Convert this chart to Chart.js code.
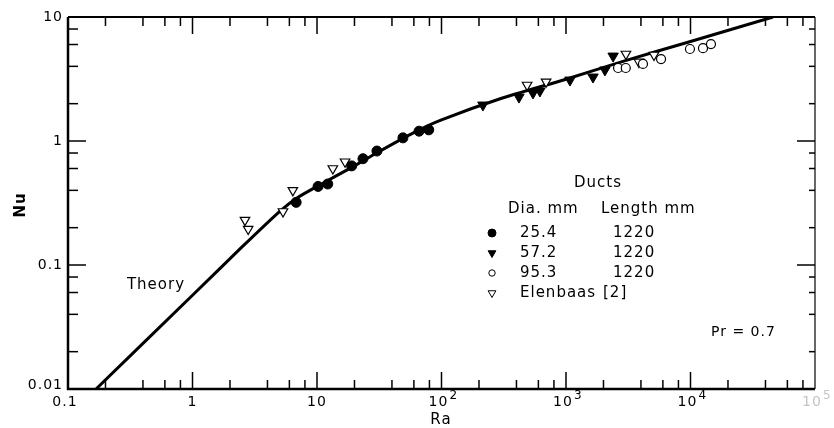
<!DOCTYPE html>
<html>
<head>
<meta charset="utf-8">
<script src="https://cdn.jsdelivr.net/npm/chart.js@4.4.1/dist/chart.umd.min.js"></script>
<style>html,body{margin:0;padding:0;background:#fff}</style>
</head>
<body>
<canvas id="chart--nu" width="834" height="428"></canvas>
<script>
// theory curve
const theory_ra = [0.168, 1, 2.5, 5, 7, 10, 20, 30, 60, 100, 300, 1000, 3000, 10000, 46000];
const theory_nu = [0.01, 0.057, 0.14, 0.27, 0.35, 0.43, 0.63, 0.8, 1.17, 1.48, 2.2, 3.15, 4.45, 6.35, 10];

// ducts, dia 25.4 mm
const d25_ra = [6.8, 10.2, 12.2, 19, 23.4, 30.3, 49, 66, 79];
const d25_nu = [0.32, 0.43, 0.45, 0.63, 0.72, 0.83, 1.06, 1.2, 1.23];
// dia 57.2 mm
const d57_ra = [215, 419, 543, 617, 1076, 1648, 2055, 2390];
const d57_nu = [1.95, 2.26, 2.44, 2.53, 3.1, 3.28, 3.74, 4.84];
// dia 95.3 mm
const d95_ra = [2620, 3020, 4150, 5800, 9900, 12600, 14600];
const d95_nu = [3.88, 3.88, 4.18, 4.58, 5.52, 5.6, 6.05];
// Elenbaas [2]
const elen_ra = [2.64, 2.8, 5.33, 6.4, 13.4, 16.8, 487, 692, 3030, 3850, 5090];
const elen_nu = [0.23, 0.195, 0.27, 0.40, 0.6, 0.68, 2.83, 3.0, 5.03, 4.34, 4.94];

// ticks
const xTickVals = [0.1, 1, 10, 100, 1000, 10000, 100000];
const xTickLabels = ['0.1', '1', '10', '10^2', '10^3', '10^4', '10^5'];
const yTickVals = [0.01, 0.1, 1, 10];
const yTickLabels = ['0.01', '0.1', '1', '10'];
const minorSteps = [2, 4, 6, 8];

// legend text
const legend_dia = ['25.4', '57.2', '95.3', 'Elenbaas'];
const legend_len = ['1220', '1220', '1220', '[2]'];

const FONT = '"DejaVu Sans", sans-serif';

function pts(xs, ys) {
    return xs.map((x, i) => ({x: x, y: ys[i]}));
}

const frame = {
    id: 'frame',
    afterDraw(chart) {
        const ctx = chart.ctx;
        const a = chart.chartArea;
        const xs = chart.scales.x, ys = chart.scales.y;
        ctx.save();
        ctx.strokeStyle = '#000';
        ctx.fillStyle = '#000';
        ctx.lineCap = 'butt';

        // border
        ctx.lineWidth = 2.5;
        ctx.beginPath();
        ctx.moveTo(a.left, a.top); ctx.lineTo(a.left, a.bottom); ctx.lineTo(a.right, a.bottom);
        ctx.stroke();
        ctx.lineWidth = 2;
        ctx.beginPath(); ctx.moveTo(a.left, a.top); ctx.lineTo(a.right, a.top); ctx.stroke();
        ctx.lineWidth = 1.2;
        ctx.beginPath(); ctx.moveTo(a.right, a.top); ctx.lineTo(a.right, a.bottom); ctx.stroke();

        // ticks, pointing in
        ctx.lineWidth = 1.5;
        const tick = (x1, y1, x2, y2) => { ctx.beginPath(); ctx.moveTo(x1, y1); ctx.lineTo(x2, y2); ctx.stroke(); };
        xTickVals.forEach((v, i) => {
            const px = xs.getPixelForValue(v);
            if (i > 0 && i < xTickVals.length - 1) {
                tick(px, a.top, px, a.top + 17);
                tick(px, a.bottom, px, a.bottom - 17);
            }
            if (i < xTickVals.length - 1) minorSteps.forEach(m => {
                const q = xs.getPixelForValue(v * m);
                tick(q, a.top, q, a.top + 9);
                tick(q, a.bottom, q, a.bottom - 9);
            });
        });
        yTickVals.forEach((v, i) => {
            const py = ys.getPixelForValue(v);
            if (i > 0 && i < yTickVals.length - 1) {
                tick(a.left, py, a.left + 18, py);
                tick(a.right, py, a.right - 18, py);
            }
            if (i < yTickVals.length - 1) minorSteps.forEach(m => {
                const q = ys.getPixelForValue(v * m);
                tick(a.left, q, a.left + 10, q);
                tick(a.right, q, a.right - 6, q);
            });
        });

        // tick labels
        ctx.letterSpacing = '1px';
        ctx.textBaseline = 'middle';
        xTickVals.forEach((v, i) => {
            const px = xs.getPixelForValue(v);
            const parts = xTickLabels[i].split('^');
            ctx.fillStyle = i === xTickVals.length - 1 ? '#c4c4c4' : '#000';
            ctx.font = '14px ' + FONT;
            ctx.textAlign = 'center';
            const base = parts[0];
            let cx = px;
            if (i === 0) cx = px - 3;
            ctx.fillText(base, cx + (parts.length > 1 ? -3 : 0), a.bottom + 13);
            if (parts.length > 1) {
                const w = ctx.measureText(base).width;
                ctx.font = '12px ' + FONT;
                ctx.textAlign = 'left';
                ctx.fillText(parts[1], cx - 3 + w / 2 + 1, a.bottom + 7);
            }
        });
        ctx.fillStyle = '#000';
        ctx.font = '14px ' + FONT;
        ctx.textAlign = 'right';
        yTickVals.forEach((v, i) => {
            let py = ys.getPixelForValue(v);
            if (i === 0) py -= 4;
            ctx.fillText(yTickLabels[i], a.left - 5, py);
        });

        // axis titles
        ctx.textAlign = 'center';
        ctx.font = '15px ' + FONT;
        ctx.fillText('Ra', 441, 420);
        ctx.save();
        ctx.translate(21, 205);
        ctx.rotate(-Math.PI / 2);
        ctx.font = 'bold 15px ' + FONT;
        ctx.fillText('Nu', 0, 0);
        ctx.restore();

        // annotations
        ctx.font = '15px ' + FONT;
        ctx.fillText('Theory', 156, 285);
        ctx.textAlign = 'left';
        ctx.font = '14px ' + FONT;
        ctx.fillText('Pr = 0.7', 711, 332);

        // legend
        ctx.font = '15px ' + FONT;
        ctx.fillText('Ducts', 574, 183);
        ctx.fillText('Dia. mm', 508, 209);
        ctx.fillText('Length mm', 601, 209);
        const marks = [
            {pointStyle: 'circle', radius: 4, rotation: 0, fill: '#000'},
            {pointStyle: 'triangle', radius: 4.5, rotation: 180, fill: '#000'},
            {pointStyle: 'circle', radius: 3.2, rotation: 0, fill: '#fff'},
            {pointStyle: 'triangle', radius: 4.5, rotation: 180, fill: '#fff'}
        ];
        legend_dia.forEach((t, i) => {
            const y = 233 + i * 20;
            const m = marks[i];
            ctx.fillStyle = m.fill;
            ctx.strokeStyle = '#000';
            ctx.lineWidth = 1;
            Chart.helpers.drawPoint(ctx, {pointStyle: m.pointStyle, radius: m.radius, rotation: m.rotation, borderWidth: 1}, 492, y);
            ctx.fillStyle = '#000';
            ctx.fillText(t, 520, y);
            ctx.fillText(legend_len[i], i === 3 ? 603 : 613, y);
        });
        ctx.restore();
    }
};

const data_nu = {
    datasets: [{
        label: 'Theory',
        data: pts(theory_ra, theory_nu),
        showLine: true,
        borderColor: '#000',
        borderWidth: 3,
        pointRadius: 0,
        tension: 0.2,
        order: 5
    }, {
        label: '25.4',
        data: pts(d25_ra, d25_nu),
        pointStyle: 'circle',
        pointRadius: 5,
        backgroundColor: '#000',
        borderColor: '#000',
        order: 1
    }, {
        label: '57.2',
        data: pts(d57_ra, d57_nu),
        pointStyle: 'triangle',
        rotation: 180,
        pointRadius: 6,
        backgroundColor: '#000',
        borderColor: '#000',
        order: 2
    }, {
        label: '95.3',
        data: pts(d95_ra, d95_nu),
        pointStyle: 'circle',
        pointRadius: 4.5,
        backgroundColor: '#fff',
        borderColor: '#000',
        borderWidth: 1.2,
        order: 3
    }, {
        label: 'Elenbaas [2]',
        data: pts(elen_ra, elen_nu),
        pointStyle: 'triangle',
        rotation: 180,
        pointRadius: 5.5,
        backgroundColor: '#fff',
        borderColor: '#000',
        borderWidth: 1.2,
        order: 4
    }]
};

const config_nu = {
    type: 'scatter',
    data: data_nu,
    options: {
        responsive: false,
        devicePixelRatio: 1,
        animation: false,
        layout: {padding: {left: 68, right: 19, top: 17, bottom: 39}},
        plugins: {legend: {display: false}, tooltip: {enabled: false}},
        scales: {
            x: {type: 'logarithmic', min: 0.1, max: 100000, display: false},
            y: {type: 'logarithmic', min: 0.01, max: 10, display: false}
        }
    },
    plugins: [frame]
};

var chartnu = new Chart(document.getElementById('chart--nu'), config_nu);
</script>
</body>
</html>
